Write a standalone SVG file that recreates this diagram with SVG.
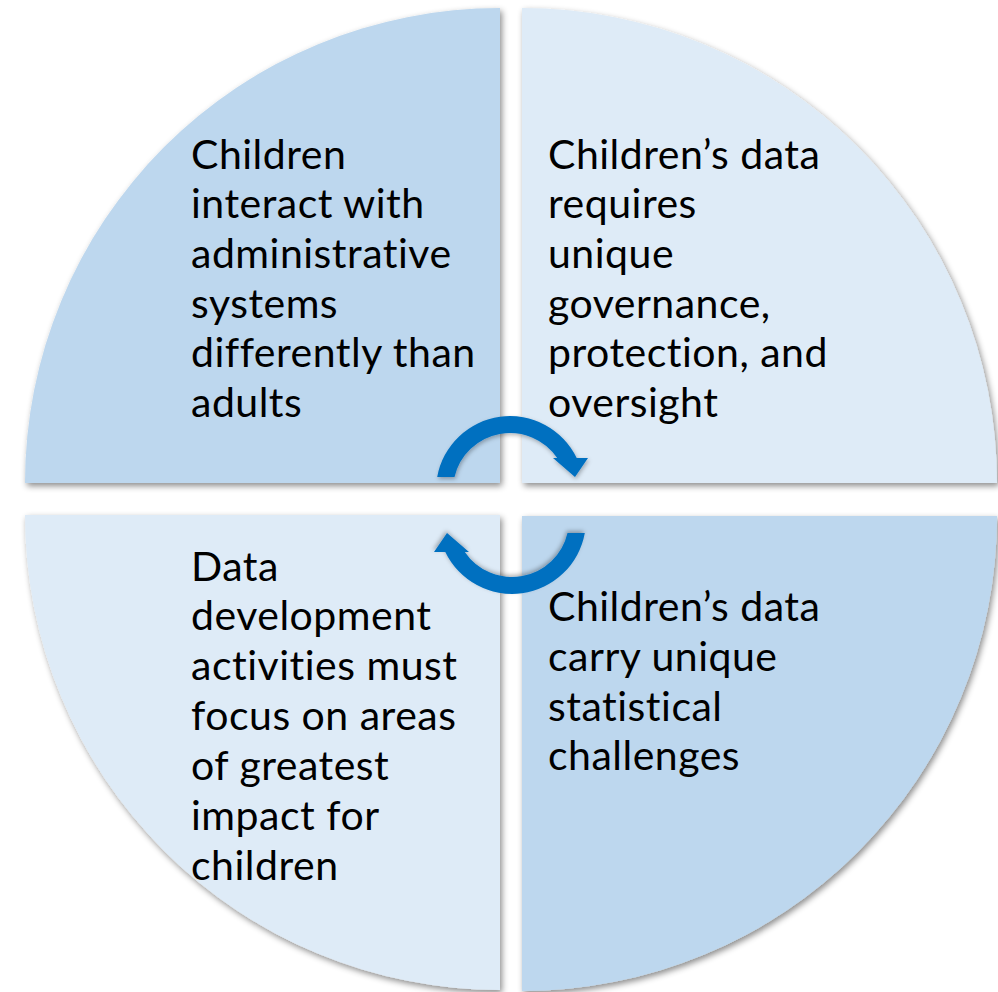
<svg xmlns="http://www.w3.org/2000/svg" width="998" height="992" viewBox="0 0 998 992">
  <defs>
    <filter id="sh" x="-10%" y="-10%" width="120%" height="120%">
      <feDropShadow dx="2" dy="3" stdDeviation="3" flood-color="#000" flood-opacity="0.45"/>
    </filter>
    <filter id="sh2" x="-20%" y="-20%" width="140%" height="140%">
      <feDropShadow dx="1" dy="2" stdDeviation="2" flood-color="#000" flood-opacity="0.3"/>
    </filter>
  </defs>
  <style>
    .dark { fill: #BDD7EE; }
    .light { fill: #DEEBF7; }
    .lbl { font-family: Lato, "Open Sans", sans-serif; font-size: 41px; letter-spacing: 0.5px; font-variant-ligatures: none; font-feature-settings: "liga" 0; fill: #000; }
    .arr { fill: #0070C0; }
  </style>
  <rect width="998" height="992" fill="#fff"/>
  <g id="q1">
    <path class="dark" filter="url(#sh)" d="M500,483 L25,483 A475,475 0 0 1 500,8 Z"/>
    <text class="lbl"><tspan x="191" y="169">Children</tspan><tspan x="191" y="218">interact with</tspan><tspan x="191" y="268">administrative</tspan><tspan x="191" y="318">systems</tspan><tspan x="191" y="367">differently than</tspan><tspan x="191" y="417">adults</tspan></text>
  </g>
  <g id="q2">
    <path class="light" filter="url(#sh)" d="M522,483 L522,8 A475,475 0 0 1 997,483 Z"/>
    <text class="lbl"><tspan x="548" y="169">Children’s data</tspan><tspan x="548" y="218">requires</tspan><tspan x="548" y="268">unique</tspan><tspan x="548" y="318">governance,</tspan><tspan x="548" y="367">protection, and</tspan><tspan x="548" y="417">oversight</tspan></text>
  </g>
  <g id="q3">
    <path class="light" filter="url(#sh)" d="M500,515 L500,990 A475,475 0 0 1 25,515 Z"/>
    <text class="lbl"><tspan x="191" y="581">Data</tspan><tspan x="191" y="630">development</tspan><tspan x="191" y="680">activities must</tspan><tspan x="191" y="730">focus on areas</tspan><tspan x="191" y="780">of greatest</tspan><tspan x="191" y="830">impact for</tspan><tspan x="191" y="880">children</tspan></text>
  </g>
  <g id="q4">
    <path class="dark" filter="url(#sh)" d="M522,516 L997,516 A475,475 0 0 1 522,991 Z"/>
    <text class="lbl"><tspan x="548" y="621">Children’s data</tspan><tspan x="548" y="671">carry unique</tspan><tspan x="548" y="721">statistical</tspan><tspan x="548" y="770">challenges</tspan></text>
  </g>
  <g id="connectors">
    <path class="arr" filter="url(#sh2)" d="M437.2,477 A74,74 0 0 1 576.7,458 L588,458 L575,477 L553,458 L557.2,458 A57,57 0 0 0 454.5,477 Z"/>
    <path class="arr" filter="url(#sh2)" transform="rotate(180 511 505)" d="M437.2,477 A74,74 0 0 1 576.7,458 L588,458 L575,477 L553,458 L557.2,458 A57,57 0 0 0 454.5,477 Z"/>
  </g>
</svg>
